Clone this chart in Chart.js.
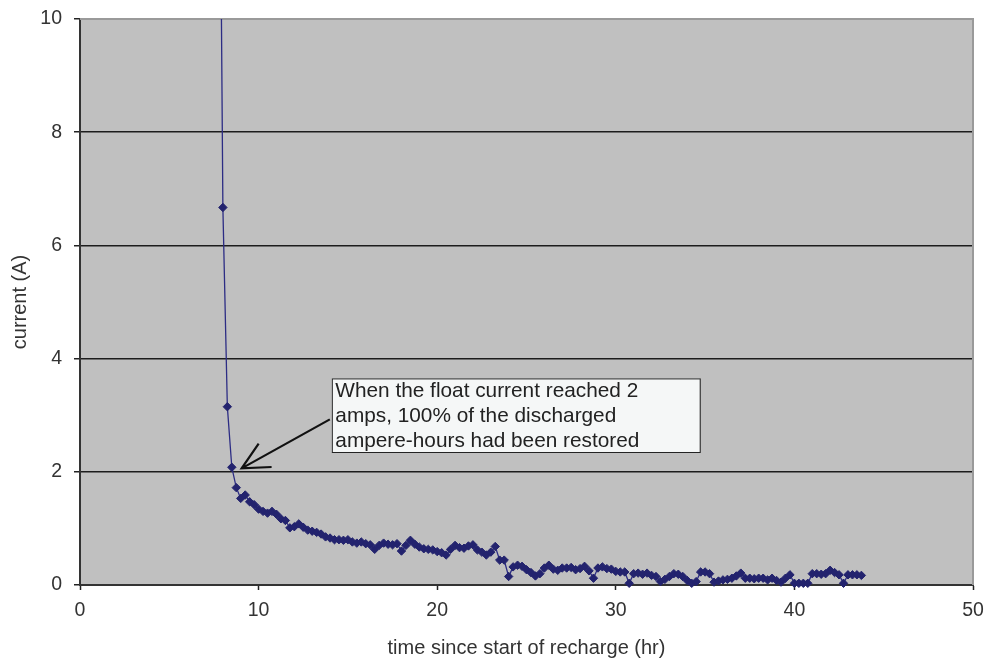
<!DOCTYPE html>
<html>
<head>
<meta charset="utf-8">
<script src="https://cdn.jsdelivr.net/npm/chart.js@4.4.1/dist/chart.umd.min.js"></script>
<style>
  html, body { margin: 0; padding: 0; background: #fff; }
</style>
</head>
<body>
<canvas id="chart" width="987" height="658"></canvas>
<script>
// time since start of recharge (hr), one reading every 15 min
const hours = [
  7.75,
  8, 8.25, 8.5, 8.75,
  9, 9.25, 9.5, 9.75,
  10, 10.25, 10.5, 10.75,
  11, 11.25, 11.5, 11.75,
  12, 12.25, 12.5, 12.75,
  13, 13.25, 13.5, 13.75,
  14, 14.25, 14.5, 14.75,
  15, 15.25, 15.5, 15.75,
  16, 16.25, 16.5, 16.75,
  17, 17.25, 17.5, 17.75,
  18, 18.25, 18.5, 18.75,
  19, 19.25, 19.5, 19.75,
  20, 20.25, 20.5, 20.75,
  21, 21.25, 21.5, 21.75,
  22, 22.25, 22.5, 22.75,
  23, 23.25, 23.5, 23.75,
  24, 24.25, 24.5, 24.75,
  25, 25.25, 25.5, 25.75,
  26, 26.25, 26.5, 26.75,
  27, 27.25, 27.5, 27.75,
  28, 28.25, 28.5, 28.75,
  29, 29.25, 29.5, 29.75,
  30, 30.25, 30.5, 30.75,
  31, 31.25, 31.5, 31.75,
  32, 32.25, 32.5, 32.75,
  33, 33.25, 33.5, 33.75,
  34, 34.25, 34.5, 34.75,
  35, 35.25, 35.5, 35.75,
  36, 36.25, 36.5, 36.75,
  37, 37.25, 37.5, 37.75,
  38, 38.25, 38.5, 38.75,
  39, 39.25, 39.5, 39.75,
  40, 40.25, 40.5, 40.75,
  41, 41.25, 41.5, 41.75,
  42, 42.25, 42.5, 42.75,
  43, 43.25, 43.5, 43.75,
];

// float current (A)
const amps = [
  17,
  6.67, 3.15, 2.08, 1.72,
  1.53, 1.59, 1.47, 1.42,
  1.34, 1.30, 1.27, 1.30,
  1.25, 1.17, 1.14, 1.01,
  1.03, 1.08, 1.02, 0.97,
  0.95, 0.93, 0.90, 0.85,
  0.83, 0.80, 0.80, 0.79,
  0.80, 0.76, 0.74, 0.76,
  0.73, 0.71, 0.63, 0.70,
  0.74, 0.72, 0.71, 0.73,
  0.60, 0.70, 0.79, 0.72,
  0.67, 0.64, 0.63, 0.62,
  0.59, 0.57, 0.53, 0.63,
  0.70, 0.66, 0.65, 0.69,
  0.71, 0.62, 0.58, 0.53,
  0.58, 0.68, 0.44, 0.44,
  0.15, 0.32, 0.35, 0.33,
  0.27, 0.22, 0.16, 0.20,
  0.30, 0.35, 0.28, 0.26,
  0.30, 0.30, 0.31, 0.27,
  0.29, 0.33, 0.25, 0.12,
  0.30, 0.32, 0.29, 0.28,
  0.24, 0.23, 0.23, 0.03,
  0.20, 0.21, 0.19, 0.21,
  0.17, 0.15, 0.06, 0.10,
  0.15, 0.20, 0.19, 0.15,
  0.08, 0.03, 0.06, 0.23,
  0.23, 0.20, 0.05, 0.07,
  0.09, 0.10, 0.12, 0.16,
  0.21, 0.12, 0.12, 0.11,
  0.12, 0.12, 0.09, 0.12,
  0.08, 0.05, 0.12, 0.18,
  0.03, 0.03, 0.03, 0.03,
  0.20, 0.20, 0.19, 0.20,
  0.26, 0.22, 0.18, 0.03,
  0.18, 0.18, 0.18, 0.17,
];

const noteLines = [
  "When the float current reached 2",
  "amps, 100% of the discharged",
  "ampere-hours had been restored",
];
// callout box corners and arrow tip, in data units
const noteBox = { x0: 14.1, y0: 3.65, x1: 34.7, y1: 2.35 };
const notePoint = { x: 9.05, y: 2.06 };

const FONT = "'Liberation Sans', Arial, sans-serif";
const lineColor = "#2c2c84";
const markerColor = "#23236e";

const plotBackground = {
  id: "plotBackground",
  beforeDraw(chart) {
    const { ctx, chartArea: a } = chart;
    ctx.save();
    ctx.fillStyle = "#c0c0c0";
    ctx.fillRect(a.left, a.top, a.right - a.left, a.bottom - a.top);
    ctx.restore();
  },
  beforeDatasetsDraw(chart) {
    // light frame on top and right like the spreadsheet plot area
    const { ctx, chartArea: a } = chart;
    ctx.save();
    ctx.strokeStyle = "#9a9a9a";
    ctx.lineWidth = 2;
    ctx.beginPath();
    ctx.moveTo(a.left, a.top);
    ctx.lineTo(a.right, a.top);
    ctx.lineTo(a.right, a.bottom);
    ctx.stroke();
    ctx.restore();
  },
};

const callout = {
  id: "callout",
  afterDatasetsDraw(chart) {
    const { ctx, scales } = chart;
    const x = scales.x, y = scales.y;
    const left = x.getPixelForValue(noteBox.x0);
    const right = x.getPixelForValue(noteBox.x1);
    const top = y.getPixelForValue(noteBox.y0);
    const bottom = y.getPixelForValue(noteBox.y1);
    ctx.save();
    ctx.fillStyle = "#f5f7f7";
    ctx.strokeStyle = "#222";
    ctx.lineWidth = 1;
    ctx.fillRect(left, top, right - left, bottom - top);
    ctx.strokeRect(left + 0.5, top + 0.5, right - left, bottom - top);

    ctx.fillStyle = "#222";
    ctx.font = "20.8px " + FONT;
    ctx.textBaseline = "alphabetic";
    noteLines.forEach((line, i) => {
      ctx.fillText(line, left + 3.5, top + 19 + i * 25);
    });

    // arrow from the box to the 2 A point
    const tipX = x.getPixelForValue(notePoint.x);
    const tipY = y.getPixelForValue(notePoint.y);
    const tailX = left - 2;
    const tailY = top + 41;
    const ang = Math.atan2(tailY - tipY, tailX - tipX);
    const head = 30, spread = 0.46;
    ctx.strokeStyle = "#111";
    ctx.lineWidth = 2.2;
    ctx.beginPath();
    ctx.moveTo(tailX, tailY);
    ctx.lineTo(tipX, tipY);
    ctx.moveTo(tipX + head * Math.cos(ang - spread), tipY + head * Math.sin(ang - spread));
    ctx.lineTo(tipX, tipY);
    ctx.lineTo(tipX + head * Math.cos(ang + spread), tipY + head * Math.sin(ang + spread));
    ctx.stroke();
    ctx.restore();
  },
};

new Chart(document.getElementById("chart"), {
  type: "line",
  data: {
    datasets: [
      {
        data: hours.map((h, i) => ({ x: h, y: amps[i] })),
        borderColor: lineColor,
        borderWidth: 1.3,
        backgroundColor: markerColor,
        pointStyle: "rectRot",
        pointRadius: 4.2,
        pointBorderWidth: 1,
        pointBorderColor: markerColor,
        tension: 0,
        clip: { left: 0, top: 0, right: 0, bottom: 6 },
      },
    ],
  },
  options: {
    responsive: false,
    animation: false,
    layout: { padding: { top: 19, right: 14, left: 0, bottom: 0 } },
    plugins: {
      legend: { display: false },
      tooltip: { enabled: false },
    },
    scales: {
      x: {
        type: "linear",
        min: 0,
        max: 50,
        afterFit(scale) {
          scale.height = 73;
          scale.paddingLeft = 0;
          scale.paddingRight = 0;
        },
        ticks: {
          stepSize: 10,
          padding: 9,
          maxRotation: 0,
          color: "#333",
          font: { family: FONT, size: 19.5 },
        },
        grid: {
          drawOnChartArea: false,
          tickLength: 5,
          tickColor: "#222",
          tickWidth: 1.5,
        },
        border: { color: "#333", width: 2 },
        title: {
          display: true,
          text: "time since start of recharge (hr)",
          color: "#333",
          font: { family: FONT, size: 20, lineHeight: 1 },
          padding: { top: 0, bottom: 0 },
        },
      },
      y: {
        min: 0,
        max: 10,
        afterFit(scale) {
          scale.width = 80;
          scale.paddingTop = 0;
          scale.paddingBottom = 0;
        },
        ticks: {
          stepSize: 2,
          padding: 12,
          color: "#333",
          font: { family: FONT, size: 19.5 },
        },
        grid: {
          color: (c) => (c.tick.value === 10 ? "rgba(0,0,0,0)" : "#1c1c1c"),
          lineWidth: 1.5,
          tickLength: 6,
          tickColor: "#222",
          tickWidth: 1.5,
        },
        border: { color: "#333", width: 2 },
        title: {
          display: true,
          text: "current (A)",
          color: "#333",
          font: { family: FONT, size: 20 },
          padding: { top: 8, bottom: 0 },
        },
      },
    },
  },
  plugins: [plotBackground, callout],
});
</script>
</body>
</html>
